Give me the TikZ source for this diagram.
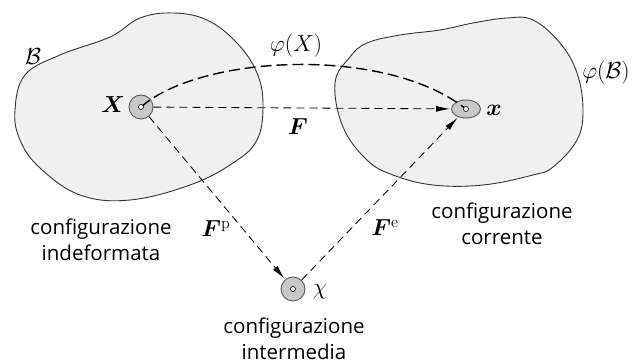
\RequirePackage{fix-cm}
\documentclass[tikz,border=0pt]{standalone}
\usepackage{amsmath}
\usepackage{bm}
\usepackage{fontspec}
\newfontfamily\labfont{Open Sans}
\usetikzlibrary{arrows.meta,shapes.geometric}
\definecolor{blobfill}{RGB}{240,240,240}
\definecolor{dotfill}{RGB}{200,200,200}
\tikzset{
  blob/.style={draw=black!80, line width=0.9pt, fill=blobfill},
  pt/.style={circle, draw=black!65, fill=dotfill, line width=0.9pt, minimum size=24pt, inner sep=0pt},
  ptell/.style={ellipse, draw=black!65, fill=dotfill, line width=0.9pt, minimum width=29pt, minimum height=18pt, inner sep=0pt},
  hole/.style={circle, draw=black, fill=white, line width=0.6pt, minimum size=5pt, inner sep=0pt},
  map/.style={dash pattern=on 8pt off 5pt, line width=0.85pt, -{Latex[length=14pt,width=6pt]}, shorten >=1pt},
  phimap/.style={dash pattern=on 11pt off 5pt, line width=1.4pt},
  lab/.style={font=\labfont\fontsize{20.5}{25.5}\selectfont, align=center, inner sep=0pt},
  mlab/.style={font=\fontsize{20.74}{25}\selectfont, inner sep=0pt, scale=1.12, transform shape},
}
\begin{document}
\begin{tikzpicture}[x=1pt,y=-1pt]
\useasboundingbox (0,0) rectangle (633,363);
% bodies
\draw[blob] plot[smooth cycle, tension=0.65] coordinates {
  (15,110) (25,75) (60,55) (110,37) (140,18) (173,13) (207,20) (237,43)
  (257,73) (263,105) (257,140) (233,163) (190,185) (130,200) (80,195)
  (40,168) (20,140)};
\draw[blob] plot[smooth cycle, tension=0.65] coordinates {
  (507,18) (533,20) (560,43) (577,73) (583,110) (577,140) (553,167)
  (533,175) (483,185) (433,185) (393,175) (367,160) (343,127) (335,83)
  (350,57) (367,43) (400,35) (440,30) (473,23)};
% points
\node[pt] (X) at (141,107) {};
\node[ptell] (x) at (466,109) {};
\node[pt] (c) at (293,289) {};
% mappings
\draw[phimap] (X.center) .. controls (200,55) and (385,45) .. (x.center);
\draw[map] (X) -- (x);
\draw[map] (X) -- (c);
\draw[map] (c) -- (x);
\node[hole] (hX) at (X.center) {};
\node[hole] (hx) at (x.center) {};
\node[hole] (hc) at (c.center) {};
% labels
\node[mlab] (lB) at (33,57) {$\mathcal{B}$};
\node[mlab] (lpB) at (606,73) {$\varphi(\mathcal{B})$};
\node[mlab] (lphiX) at (296,46) {$\varphi(X)$};
\node[mlab] (lX) at (113,105) {$\bm{X}$};
\node[mlab] (lx) at (494,110) {$\bm{x}$};
\node[mlab] (lF) at (298,127) {$\bm{F}$};
\node[mlab] (lFp) at (216,229) {$\bm{F}^{\mathrm{p}}$};
\node[mlab] (lFe) at (385,228) {$\bm{F}^{\mathrm{e}}$};
\node[mlab] (lc) at (320,292) {$\chi$};
\node[lab] (t1) at (101,240) {configurazione\\indeformata};
\node[lab] (t2) at (502,224) {configurazione\\corrente};
\node[lab] (t3) at (294,339) {configurazione\\intermedia};
\end{tikzpicture}
\end{document}
